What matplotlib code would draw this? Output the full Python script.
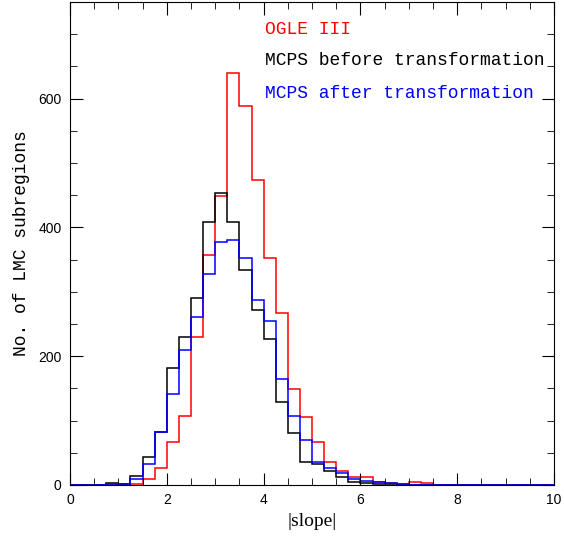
import matplotlib.pyplot as plt
import numpy as np

# bin edges of |slope| histogram (0.25 wide)
edges = np.arange(0, 10.001, 0.25)

# counts per bin (40 bins)
ogle = [0, 0, 0, 0, 0, 2, 10, 26, 67, 107,
        230, 357, 449, 640, 589, 473, 353, 267, 149, 105,
        67, 36, 22, 13, 13, 4, 3, 2, 4, 3,
        0, 0, 0, 0, 0, 0, 0, 0, 0, 0]
mcps_before = [0, 0, 0, 3, 2, 14, 44, 83, 181, 230,
               290, 408, 454, 409, 334, 272, 226, 129, 81, 36,
               33, 22, 13, 5, 3, 1, 1, 0, 0, 0,
               0, 0, 0, 0, 0, 0, 0, 0, 0, 0]
mcps_after = [0, 0, 0, 1, 1, 9, 33, 82, 141, 210,
              261, 327, 378, 381, 353, 288, 254, 165, 107, 70,
              35, 26, 19, 9, 6, 4, 3, 2, 0, 0,
              0, 0, 0, 0, 0, 0, 0, 0, 0, 0]

labels = ["OGLE III", "MCPS before transformation", "MCPS after transformation"]
colors = ["red", "black", "blue"]

fig = plt.figure(figsize=(5.64, 5.39), dpi=100)
ax = fig.add_axes([0.1241, 0.1002, 0.8582, 0.8961])

for vals, c in zip([ogle, mcps_before, mcps_after], colors):
    ax.stairs(vals, edges, color=c, linewidth=1.1)

ax.set_xlim(0, 10)
ax.set_ylim(0, 750)
ax.set_xticks(np.arange(0, 11, 2))
ax.set_xticks(np.arange(0, 10.01, 0.5), minor=True)
ax.set_yticks([0, 200, 400, 600])
ax.set_yticks(np.arange(0, 751, 50), minor=True)
ax.tick_params(which="both", direction="in", top=True, right=True,
               labelsize=10, pad=6)
ax.tick_params(which="major", length=9)
ax.tick_params(which="minor", length=5)
for lab in ax.get_xticklabels() + ax.get_yticklabels():
    lab.set_family("Liberation Sans")

ax.set_xlabel("|slope|", fontsize=14, family="Liberation Serif", labelpad=4)
ax.set_ylabel("No. of LMC subregions", fontsize=13, family="Liberation Mono",
              labelpad=6)

for (lab, c, y) in zip(labels, colors, [708, 659, 608]):
    ax.text(4.03, y, lab, color=c, fontsize=13, family="Liberation Mono",
            ha="left", va="center")

fig.savefig("out.png", dpi=100)
